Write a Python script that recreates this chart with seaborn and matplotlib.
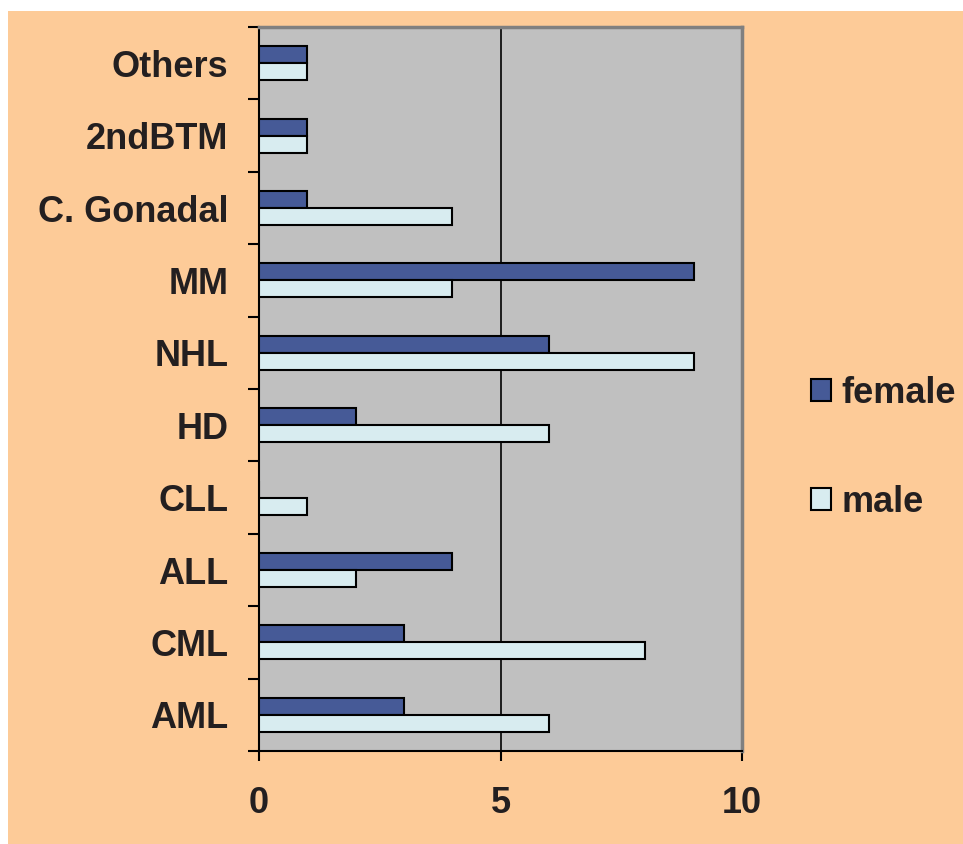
import pandas as pd
import matplotlib.pyplot as plt
import seaborn as sns
from matplotlib.patches import Rectangle
from matplotlib.ticker import FixedLocator

# Valeurs (de haut en bas)
categories = ['Others', '2ndBTM', 'C. Gonadal', 'MM', 'NHL', 'HD', 'CLL', 'ALL', 'CML', 'AML']
female = [1, 1, 1, 9, 6, 2, 0, 4, 3, 3]
male = [1, 1, 4, 4, 9, 6, 1, 2, 8, 6]
x_ticks = [0, 5, 10]

def main():
    df = pd.DataFrame({'Type': categories, 'female': female, 'male': male})
    df_melted = df.melt(id_vars=['Type'], value_vars=['female', 'male'], var_name='Sex', value_name='Count')

    peach = '#FDCB98'
    txt = '#231F20'
    fs = 26
    plt.rcParams['font.family'] = ['Liberation Sans', 'DejaVu Sans']

    fig = plt.figure(figsize=(9.63, 8.44), dpi=100)
    fig.patch.set_facecolor('white')
    fig.add_artist(Rectangle((8 / 963, 0), 1, 1 - 11 / 844, transform=fig.transFigure,
                             facecolor=peach, edgecolor='none', zorder=-10))

    ax = fig.add_axes([259 / 963, 93 / 844, 483 / 963, 724 / 844])
    sns.barplot(data=df_melted, y='Type', x='Count', hue='Sex', order=categories,
                hue_order=['female', 'male'], palette=['#3953A4', '#D4EEF4'],
                width=0.47, edgecolor='black', linewidth=1.5, orient='h', ax=ax, zorder=3)

    ax.set_facecolor('#C0C0C0')
    ax.set_xlim(0, 10)
    ax.set_ylim(len(categories) - 0.5, -0.5)
    ax.set_xticks(x_ticks)
    ax.set_xticklabels([str(t) for t in x_ticks], fontsize=fs, fontweight='bold', color=txt)
    ax.axvline(5, color='black', linewidth=1.2, zorder=1)
    ax.set_yticks(range(len(categories)))
    ax.set_yticklabels(categories, fontsize=fs, fontweight='bold', color=txt)
    ax.yaxis.set_minor_locator(FixedLocator([i - 0.5 for i in range(len(categories) + 1)]))
    ax.tick_params(axis='y', which='major', length=0, pad=22)
    ax.tick_params(axis='y', which='minor', length=8, width=1.5, color='black')
    ax.tick_params(axis='x', length=7, width=1.5, color='black', pad=18)
    ax.set_xlabel('')
    ax.set_ylabel('')
    for side in ['left', 'bottom']:
        ax.spines[side].set_color('black')
        ax.spines[side].set_linewidth(1.5)
    for side in ['top', 'right']:
        ax.spines[side].set_color('#808080')
        ax.spines[side].set_linewidth(2.5)

    handles, labels = ax.get_legend_handles_labels()
    ax.get_legend().remove()
    fig.legend(handles, labels, loc='center left', bbox_to_anchor=(811 / 963, 1 - 448 / 844),
               frameon=False, prop={'family': 'Liberation Sans', 'weight': 'bold', 'size': fs},
               handlelength=0.55, handleheight=0.55, handletextpad=0.3, labelspacing=2.05,
               borderpad=0, borderaxespad=0, labelcolor=txt)

    fig.savefig('out.png', dpi=100, facecolor=fig.get_facecolor())

if __name__ == "__main__":
    main()
